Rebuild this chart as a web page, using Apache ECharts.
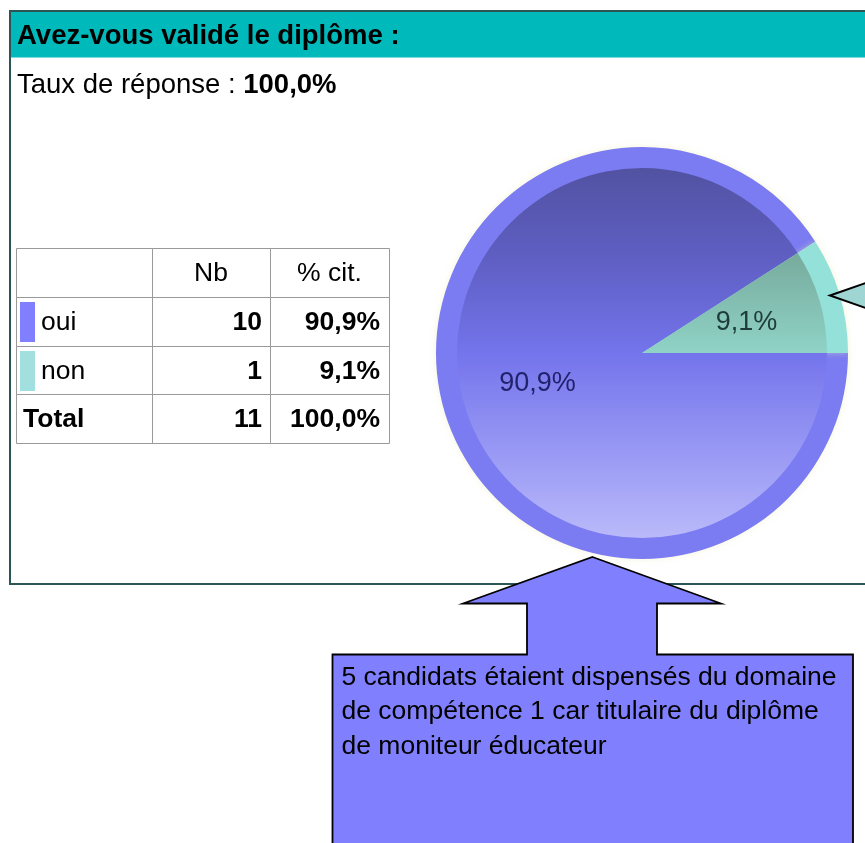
<!DOCTYPE html>
<html>
<head>
<meta charset="utf-8">
<script src="https://cdn.jsdelivr.net/npm/echarts@6/dist/echarts.min.js"></script>
<style>
  html, body { margin: 0; padding: 0; background: #ffffff; }
  #chart { width: 865px; height: 843px; }
</style>
</head>
<body>
<div id="chart"></div>
<script>
// ---- data ----
const titleText = 'Avez-vous validé le diplôme :';
const rateLabel = 'Taux de réponse : ';
const rateValue = '100,0%';
const categories = ['oui', 'non'];
const counts = [10, 1];
const pctLabels = ['90,9%', '9,1%'];
const headerLabels = ['', 'Nb', '% cit.'];
const totalRow = ['Total', '11', '100,0%'];
const noteLines = [
  '5 candidats étaient dispensés du domaine',
  'de compétence 1 car titulaire du diplôme',
  'de moniteur éducateur'
];

// ---- styling ----
const FONT = '"Liberation Sans", Arial, sans-serif';
const swatchColors = ['#8080ff', '#a2dfdf'];
const ringColors = ['#7b7bf2', '#93e1d8'];
const labelColors = ['#22226c', '#1e3c3c'];
const C = [642, 353];
const R_OUT = 206, R_IN = 185;

function grad(stops) {
  return { type: 'linear', x: 0, y: C[1] - R_IN, x2: 0, y2: C[1] + R_IN, global: true,
    colorStops: stops.map(s => ({ offset: s[0], color: s[1] })) };
}
const innerColors = [
  grad([[0, '#5252a2'], [0.25, '#5f5fc4'], [0.5, '#7474ec'], [0.75, '#9696f4'], [1, '#b9b9fa']]),
  grad([[0, '#5e8a80'], [0.2, '#74a698'], [0.5, '#8fd3c6'], [1, '#b0f0e8']])
];

const graphics = [];
// frame
graphics.push({ type: 'rect', z: 1, shape: { x: 10, y: 11, width: 900, height: 573 },
  style: { fill: '#ffffff', stroke: '#2c5555', lineWidth: 2 } });
graphics.push({ type: 'rect', z: 1, shape: { x: 11, y: 12, width: 900, height: 45.5 },
  style: { fill: '#00b9bb' } });
graphics.push({ type: 'text', z: 3, x: 17, y: 36.5,
  style: { text: titleText, font: 'bold 27.5px ' + FONT, fill: '#000', verticalAlign: 'middle' } });
graphics.push({ type: 'text', z: 3, x: 17, y: 85.5,
  style: { rich: { r: { fontSize: 27.5, fontFamily: FONT, color: '#000' }, b: { fontSize: 27.5, fontFamily: FONT, fontWeight: 'bold', color: '#000' } },
    text: '{r|' + rateLabel + '}{b|' + rateValue + '}', verticalAlign: 'middle' } });

// table
const colX = [16, 152, 270, 389];
const rowY = [248, 297, 346, 394, 443];
for (let i = 0; i < rowY.length - 1; i++) {
  for (let j = 0; j < colX.length - 1; j++) {
    graphics.push({ type: 'rect', z: 3,
      shape: { x: colX[j] + 0.5, y: rowY[i] + 0.5, width: colX[j + 1] - colX[j], height: rowY[i + 1] - rowY[i] },
      style: { fill: 'none', stroke: '#9a9a9a', lineWidth: 1 } });
  }
}
function cellText(txt, x, row, align, bold) {
  graphics.push({ type: 'text', z: 4, x: x, y: (rowY[row] + rowY[row + 1]) / 2 + 1.5,
    style: { text: txt, font: (bold ? 'bold ' : '') + '26.5px ' + FONT, fill: '#000', align: align, verticalAlign: 'middle' } });
}
cellText(headerLabels[1], (colX[1] + colX[2]) / 2, 0, 'center', false);
cellText(headerLabels[2], (colX[2] + colX[3]) / 2, 0, 'center', false);
categories.forEach((c, i) => {
  const r = i + 1;
  graphics.push({ type: 'rect', z: 4, shape: { x: 20, y: rowY[r] + 5, width: 15, height: 40 },
    style: { fill: swatchColors[i] } });
  cellText(c, 41, r, 'left', false);
  cellText(String(counts[i]), colX[2] - 8, r, 'right', true);
  cellText(pctLabels[i], colX[3] - 9, r, 'right', true);
});
cellText(totalRow[0], 23, 3, 'left', true);
cellText(totalRow[1], colX[2] - 8, 3, 'right', true);
cellText(totalRow[2], colX[3] - 9, 3, 'right', true);

// right callout (cut off)
graphics.push({ type: 'polygon', z: 20, shape: { points: [[830, 295.5], [870, 281.5], [870, 309.5]] },
  style: { fill: '#9fd6d4', stroke: '#000', lineWidth: 2 } });
// bottom callout
graphics.push({ type: 'polygon', z: 20,
  shape: { points: [[592.5, 557], [721, 603.5], [657, 603.5], [657, 654.5], [853, 654.5], [853, 870],
                    [332.5, 870], [332.5, 654.5], [527, 654.5], [527, 603.5], [463, 603.5]] },
  style: { fill: '#8080ff', stroke: '#000', lineWidth: 1.8 } });
noteLines.forEach((t, i) => {
  graphics.push({ type: 'text', z: 21, x: 341.5, y: 677.5 + i * 34.5,
    style: { text: t, font: '26.5px ' + FONT, fill: '#000', verticalAlign: 'middle' } });
});

const pieData = categories.map((c, i) => ({ name: c, value: counts[i] }));

const option = {
  animation: false,
  graphic: { elements: graphics },
  series: [
    { type: 'pie', z: 5, silent: true, center: C, radius: R_OUT, startAngle: 0, clockwise: true,
      label: { show: false }, labelLine: { show: false },
      data: pieData.map((d, i) => ({ ...d, itemStyle: { color: ringColors[i], shadowBlur: 6, shadowColor: 'rgba(235,235,185,0.5)' } })) },
    { type: 'pie', z: 6, silent: true, center: C, radius: R_IN, startAngle: 0, clockwise: true,
      label: { show: false }, labelLine: { show: false },
      data: pieData.map((d, i) => ({ ...d, itemStyle: { color: innerColors[i] } })) },
    { type: 'pie', z: 7, silent: true, center: C, radius: 212, startAngle: 0, clockwise: true,
      itemStyle: { color: 'rgba(0,0,0,0)' }, labelLine: { show: false },
      label: { show: true, position: 'inside', fontFamily: FONT, fontSize: 27,
        formatter: p => pctLabels[p.dataIndex] },
      data: pieData.map((d, i) => ({ ...d, label: { color: labelColors[i] } })) }
  ]
};
const chart = echarts.init(document.getElementById('chart'), null, { renderer: 'canvas' });
chart.setOption(option);
</script>
</body>
</html>
